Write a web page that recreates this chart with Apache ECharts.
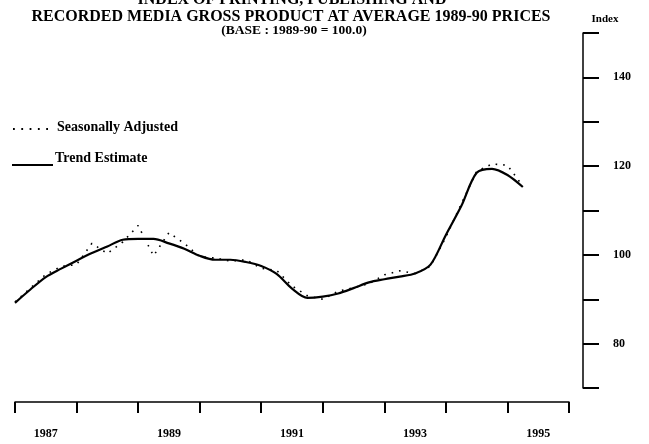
<!DOCTYPE html>
<html>
<head>
<meta charset="utf-8">
<script src="https://cdn.jsdelivr.net/npm/echarts@6/dist/echarts.min.js"></script>
<style>
  html, body { margin: 0; padding: 0; background: #fff; }
  #chart { width: 649px; height: 444px; }
</style>
</head>
<body>
<div id="chart"></div>
<script>
// year labels under the axis (every other one shown)
const yearLabels = ['1987', '1988', '1989', '1990', '1991', '1992', '1993', '1994', '1995'];

// quarterly periods, decimal year at start of quarter (1987 Q1 .. 1995 Q2)
const periods = [
  1987.00, 1987.25, 1987.50, 1987.75, 1988.00, 1988.25, 1988.50, 1988.75,
  1989.00, 1989.25, 1989.50, 1989.75, 1990.00, 1990.25, 1990.50, 1990.75,
  1991.00, 1991.25, 1991.50, 1991.75, 1992.00, 1992.25, 1992.50, 1992.75,
  1993.00, 1993.25, 1993.50, 1993.75, 1994.00, 1994.25, 1994.50, 1994.75,
  1995.00, 1995.25
];

const seasAdj = [
  89.4, 92.5, 95.6, 97.4, 97.8, 102.6, 100.3, 102.9,
  106.6, 99.8, 105.0, 102.6, 99.6, 99.3, 98.6, 98.9,
  97.0, 96.5, 93.0, 90.8, 90.0, 91.8, 92.6, 93.5,
  95.5, 96.4, 95.8, 97.4, 104.0, 111.5, 118.8, 120.5,
  120.2, 115.5
];

const trend = [
  89.2, 92.2, 95.0, 96.9, 98.7, 100.4, 101.9, 103.4,
  103.6, 103.6, 102.6, 101.4, 99.8, 98.9, 98.9, 98.4,
  97.5, 95.7, 92.4, 90.3, 90.6, 91.3, 92.5, 93.8,
  94.5, 95.1, 95.8, 97.8, 104.5, 111.0, 118.5, 119.4,
  118.0, 115.3
];

const yTickLabels = [80, 100, 120, 140];

const serif = 'Liberation Serif';
const chart = echarts.init(document.getElementById('chart'));

const titleStyle = (size) => ({ fontFamily: serif, fontSize: size, fontWeight: 'bold', color: '#000' });

const option = {
  animation: false,
  backgroundColor: '#fff',
  textStyle: { fontFamily: serif, color: '#000' },
  title: [
    { text: 'INDEX OF PRINTING, PUBLISHING AND', left: 287, top: -13, textAlign: 'center', textStyle: titleStyle(16) },
    { text: 'RECORDED MEDIA GROSS PRODUCT AT AVERAGE 1989-90 PRICES', left: 286, top: 4, textAlign: 'center', textStyle: titleStyle(16) },
    { text: '(BASE : 1989-90 = 100.0)', left: 289, top: 19, textAlign: 'center', textStyle: titleStyle(13.5) },
    { text: 'Index', left: 600, top: 9, textAlign: 'center', textStyle: titleStyle(11) }
  ],
  // hand-drawn legend, as in the printed original
  graphic: [
    { type: 'line', shape: { x1: 13, y1: 129, x2: 53, y2: 129 },
      style: { stroke: '#000', lineWidth: 1.8, lineDash: [1.8, 6.5] } },
    { type: 'text', left: 57, top: 120,
      style: { text: 'Seasonally Adjusted', font: 'bold 14px "Liberation Serif"', fill: '#000' } },
    { type: 'line', shape: { x1: 12, y1: 165, x2: 53, y2: 165 },
      style: { stroke: '#000', lineWidth: 2 } },
    { type: 'text', left: 55, top: 151,
      style: { text: 'Trend Estimate', font: 'bold 14px "Liberation Serif"', fill: '#000' } }
  ],
  grid: { left: 15, right: 80, top: 33, bottom: 56 },
  xAxis: [
    {
      type: 'category',
      data: yearLabels,
      boundaryGap: true,
      offset: 14,
      axisLine: { lineStyle: { color: '#000', width: 1.5 } },
      axisTick: { show: true, interval: 0, length: 11, inside: false, alignWithLabel: false,
        lineStyle: { color: '#000', width: 2 } },
      axisLabel: { interval: 1, margin: 26, fontFamily: serif, fontSize: 12, fontWeight: 'bold', color: '#000' },
      splitLine: { show: false }
    },
    {
      type: 'value',
      min: 1987,
      max: 1996,
      show: false
    }
  ],
  yAxis: {
    type: 'value',
    position: 'right',
    offset: 14,
    min: 70,
    max: 150,
    interval: 10,
    axisLine: { show: true, lineStyle: { color: '#000', width: 1.5 } },
    axisTick: { show: true, length: 16, lineStyle: { color: '#000', width: 2 } },
    axisLabel: {
      margin: 30,
      fontFamily: serif,
      fontSize: 12,
      fontWeight: 'bold',
      color: '#000',
      formatter: v => (yTickLabels.indexOf(v) >= 0 ? String(v) : '')
    },
    splitLine: { show: false }
  },
  series: [
    {
      name: 'Seasonally Adjusted',
      type: 'line',
      xAxisIndex: 1,
      symbol: 'none',
      lineStyle: { color: '#000', width: 1.6, type: [1.6, 6] },
      data: periods.map((p, i) => [p, seasAdj[i]]),
      z: 2
    },
    {
      name: 'Trend Estimate',
      type: 'line',
      xAxisIndex: 1,
      symbol: 'none',
      smooth: 0.3,
      lineStyle: { color: '#000', width: 2.2 },
      data: periods.map((p, i) => [p, trend[i]]),
      z: 3
    }
  ]
};

chart.setOption(option);
</script>
</body>
</html>
